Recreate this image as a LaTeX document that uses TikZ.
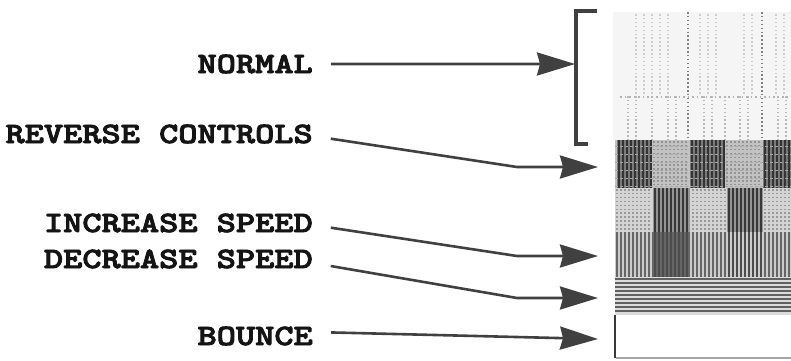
\documentclass[tikz,border=0pt]{standalone}
\usepackage{fontspec}
\usetikzlibrary{arrows.meta}
\newfontfamily\lblfont{lmmonolt10-bold.otf}[FakeStretch=1.24,FakeBold=3]

\begin{document}
\begin{tikzpicture}[x=1pt,y=-1pt,
  lbl/.style={font=\fontsize{29.5}{30}\lblfont, text=black!92,
    anchor=base east, inner sep=0pt},
  ptr/.style={draw=black!75, line width=2.6pt, line join=round, shorten <=18pt,
    -{Stealth[length=38pt,width=23pt,inset=3pt]}},
  brk/.style={draw=black!75, line width=4pt},
  dotcol/.style={line width=1.5pt, dash pattern=on 1.5pt off 2.4pt},
  vline/.style={line width=1.4pt},
]
\useasboundingbox (0,0) rectangle (791,360);

% ---------- screen strip: one band per effect ----------
% normal play (two faint dotted bands)
\fill[black!4] (613,12) rectangle (791,140);
\foreach \x in {636,644,652,660,668,700,708,716,744,752,776,784}
  \draw[dotcol, black!20] (\x,14) -- (\x,95);
\foreach \x in {688,762}
  \draw[dotcol, black!50] (\x,12) -- (\x,140);
\foreach \x in {628,636,652,668,676,704,712,725,740,748,778,786}
  \draw[dotcol, black!28] (\x,96) -- (\x,140);
\draw[dotcol, black!30, dash pattern=on 1.5pt off 3pt] (620,97) -- (791,97);

% reverse controls: dark striped blocks on grey
\fill[black!24] (615,140) rectangle (791,188);
\foreach \x in {654,658,...,688,727,731,...,761}
  \draw[dotcol, black!42] (\x,141) -- (\x,188);
\foreach \a/\b in {617/652,690/725,763/791}
  \fill[black!52] (\a,140) rectangle (\b,188);
\foreach \x in {619,623,...,651,692,696,...,724,765,769,...,789}
  \draw[vline, black!80] (\x,140) -- (\x,188);
\foreach \y in {146,154,...,186}
  \draw[line width=1pt, black!35, dash pattern=on 3pt off 2pt] (615,\y) -- (791,\y);

% dark blocks shifted half a step
\fill[black!17] (615,188) rectangle (791,232);
\foreach \x in {617,621,...,651,693,697,...,725,765,769,...,789}
  \draw[dotcol, black!40] (\x,189) -- (\x,232);
\foreach \a/\b in {653/690,727/763}
  \fill[black!42] (\a,188) rectangle (\b,232);
\foreach \x in {655,659,...,689,729,733,...,761}
  \draw[vline, black!78] (\x,188) -- (\x,232);

% increase speed: vertical lines
\fill[black!20] (615,232) rectangle (791,277);
\foreach \x in {617,621,...,789}
  \draw[vline, black!60] (\x,232) -- (\x,277);
\foreach \x in {655,659,...,689,729,733,...,761}
  \draw[vline, black!70] (\x,232) -- (\x,277);

% decrease speed: horizontal lines
\fill[black!14] (615,277) rectangle (791,315);
\foreach \y in {279,283,...,313}
  \draw[line width=1.4pt, black!62] (615,\y) -- (791,\y);

% bounce: empty box
\fill[white] (616,315) rectangle (791,358);
\draw[line width=1.2pt, black!35] (616,358) -- (791,358);
\draw[line width=2.6pt, black!78] (615,315) -- (615,358);

% ---------- bracket round the normal bands ----------
\draw[brk] (597,11) -- (576,11) -- (576,144) -- (588,144);

% ---------- labels ----------
\node[lbl] (nNormal)   at (313,73)  {NORMAL};
\node[lbl] (nReverse)  at (313,143) {REVERSE CONTROLS};
\node[lbl] (nIncrease) at (313,232) {INCREASE SPEED};
\node[lbl] (nDecrease) at (313,268) {DECREASE SPEED};
\node[lbl] (nBounce)   at (313,345) {BOUNCE};

% ---------- arrow ends ----------
\coordinate (tNormal)   at (575,64);
\coordinate (bReverse)  at (517,167);
\coordinate (tReverse)  at (598,167);
\coordinate (bIncrease) at (517,256);
\coordinate (tIncrease) at (598,256);
\coordinate (bDecrease) at (517,298);
\coordinate (tDecrease) at (598,298);
\coordinate (tBounce)   at (598,339);

% ---------- pointers ----------
\draw[ptr] (nNormal.east) -- (tNormal);
\draw[ptr] ([yshift=-2pt]nReverse.east) -- (bReverse) -- (tReverse);
\draw[ptr] ([yshift=-2pt]nIncrease.east) -- (bIncrease) -- (tIncrease);
\draw[ptr] ([yshift=-4pt]nDecrease.east) -- (bDecrease) -- (tDecrease);
\draw[ptr] ([yshift=4pt]nBounce.east) -- (tBounce);
\end{tikzpicture}
\end{document}
